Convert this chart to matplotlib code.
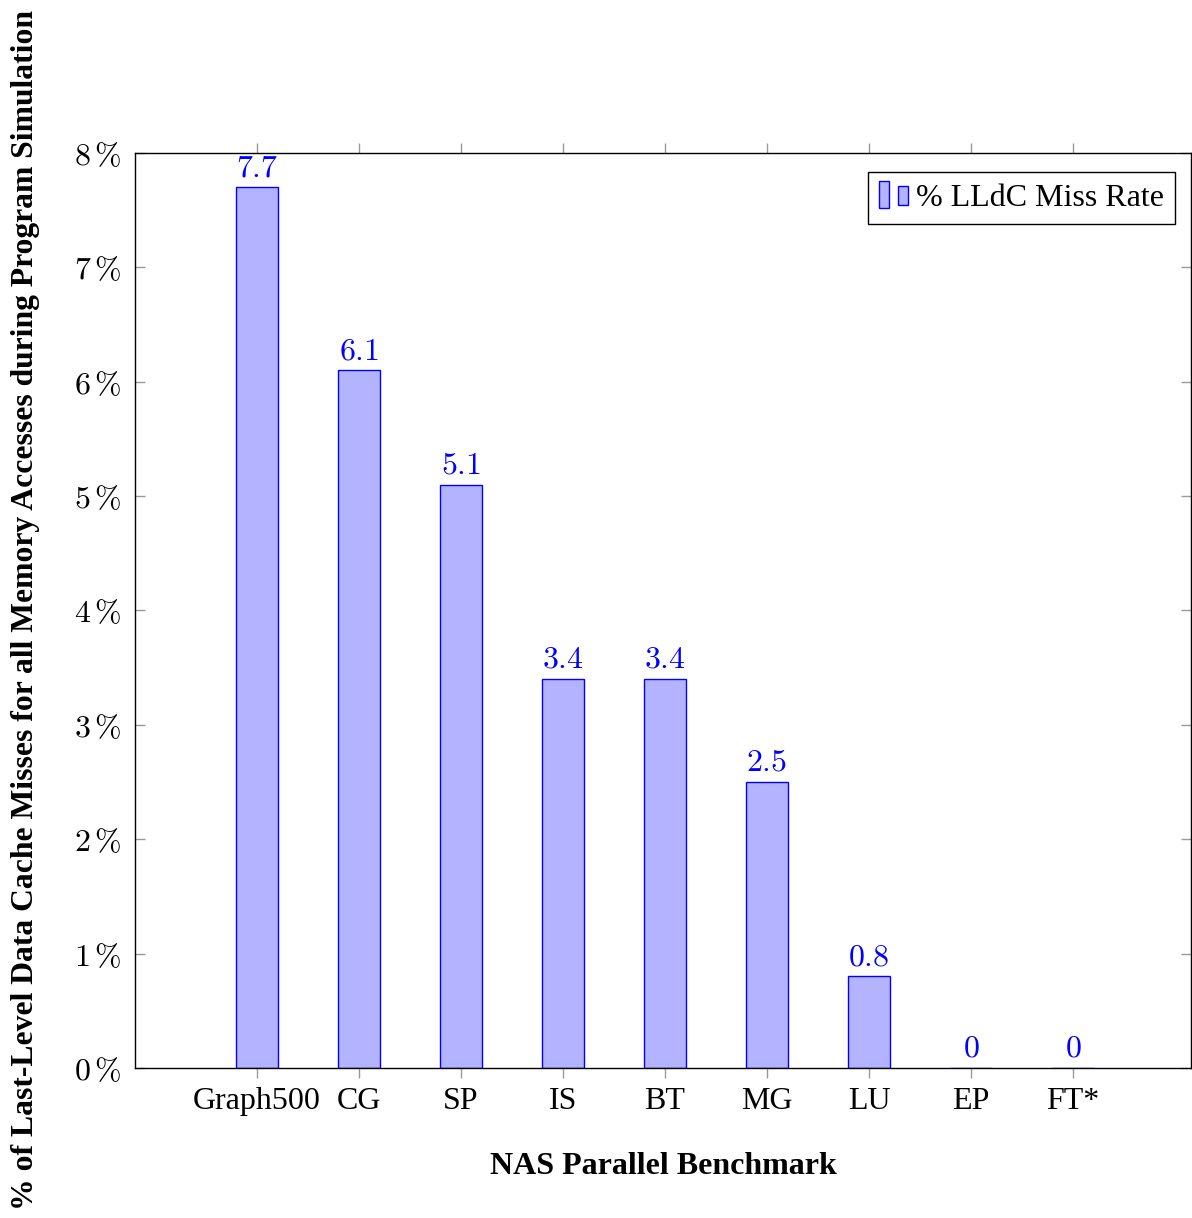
import numpy as np
import matplotlib.pyplot as plt
from matplotlib.patches import Rectangle
from matplotlib.legend_handler import HandlerBase

benchmarks = ["Graph500", "CG", "SP", "IS", "BT", "MG", "LU", "EP", "FT*"]
miss_rate = [7.7, 6.1, 5.1, 3.4, 3.4, 2.5, 0.8, 0, 0]
yticks = [0, 1, 2, 3, 4, 5, 6, 7, 8]

plt.rcParams['mathtext.fontset'] = 'cm'
fill = '#b3b3ff'
edge = '#0000ff'


# pgfplots-style legend image: two small bars
class TwoBars(HandlerBase):
    def create_artists(self, legend, orig, xd, yd, w, h, fontsize, trans):
        bw = w * 0.3
        r1 = Rectangle((xd, yd - h * 0.1), bw, h * 1.2, facecolor=fill, edgecolor=edge, lw=1, transform=trans)
        r2 = Rectangle((xd + w * 0.6, yd + h * 0.05), bw, h * 0.85, facecolor=fill, edgecolor=edge, lw=1, transform=trans)
        return [r1, r2]


fig = plt.figure(figsize=(11.92, 12.18), dpi=100)
ax = fig.add_axes([0.1133, 0.1232, 0.8858, 0.7512])

x = np.arange(len(benchmarks))
bars = ax.bar(x, miss_rate, width=0.42, color=fill, edgecolor=edge, linewidth=1, label='% LLdC Miss Rate')

for xi, v in zip(x, miss_rate):
    ax.annotate(r'$%g$' % v, (xi, v), xytext=(0, 3), textcoords='offset points',
                ha='center', va='bottom', color=edge, fontsize=23)

ax.set_xlim(-1.196, 9.157)
ax.set_ylim(0, 8)
ax.set_xticks(x)
ax.set_xticklabels(benchmarks, family='Liberation Serif', fontsize=23)
ax.set_yticks(yticks)
ax.set_yticklabels([r'$%d\,\%%$' % t for t in yticks], fontsize=23)

ax.tick_params(axis='x', direction='out', top=True, color='#999999', length=7, width=1, pad=7)
ax.tick_params(axis='y', direction='in', right=True, color='#999999', length=7, width=1, pad=10)
for s in ax.spines.values():
    s.set_linewidth(1)

ax.set_xlabel('NAS Parallel Benchmark', family='Liberation Serif', fontweight='bold', fontsize=23, labelpad=26)
fig.text(0.021, 0.499, '% of Last-Level Data Cache Misses for all Memory Accesses during Program Simulation',
         rotation=90, ha='center', va='center', family='Liberation Serif', fontweight='bold', fontsize=22.8)

leg = ax.legend(handles=[bars], handler_map={type(bars): TwoBars()}, loc='upper right',
                bbox_to_anchor=(0.985, 0.979), borderaxespad=0, fancybox=False, edgecolor='black',
                framealpha=1, prop={'family': 'Liberation Serif', 'size': 23}, handlelength=1.0,
                handletextpad=0.15, borderpad=0.35)
leg.get_frame().set_linewidth(1)

fig.savefig('out.png', dpi=100)
